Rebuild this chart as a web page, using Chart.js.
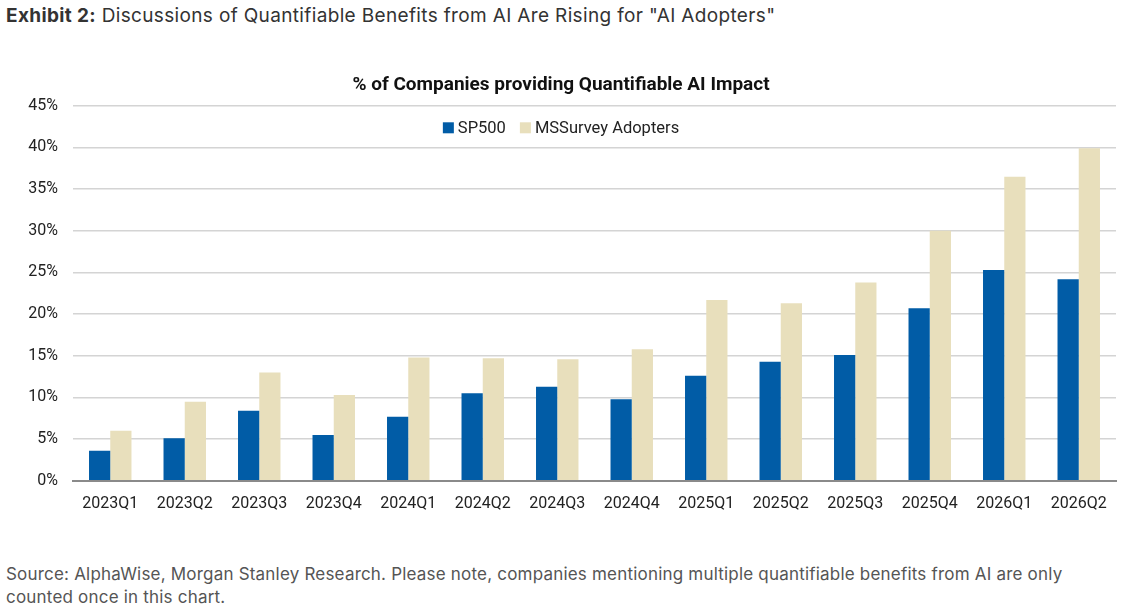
<!DOCTYPE html>
<html>
<head>
<meta charset="utf-8">
<script src="https://cdn.jsdelivr.net/npm/chart.js@4"></script>
<style>
  body { margin: 0; background: #fff; width: 1122px; height: 614px; overflow: hidden; font-family: Inter, 'Noto Sans', sans-serif; }
  #header { position: absolute; left: 6px; top: 4px; font-size: 19px; letter-spacing: 0.35px; color: #333; }
  #header b { font-weight: 700; }
  #wrap { position: absolute; left: 0; top: 58px; width: 1122px; height: 470px; }
  #footer { position: absolute; left: 6px; top: 563px; font-size: 17px; letter-spacing: 0.2px; color: #555; line-height: 23px; }
</style>
</head>
<body>
<div id="header"><b>Exhibit 2:</b> Discussions of Quantifiable Benefits from AI Are Rising for "AI Adopters"</div>
<div id="wrap"><canvas id="chart"></canvas></div>
<div id="footer">Source: AlphaWise, Morgan Stanley Research. Please note, companies mentioning multiple quantifiable benefits from AI are only<br>counted once in this chart.</div>
<script>
// Kategoriler ve seriler
const quarters = ['2023Q1', '2023Q2', '2023Q3', '2023Q4', '2024Q1', '2024Q2', '2024Q3',
                  '2024Q4', '2025Q1', '2025Q2', '2025Q3', '2025Q4', '2026Q1', '2026Q2'];
const sp500 = [3.6, 5.1, 8.4, 5.5, 7.7, 10.5, 11.3, 9.8, 12.6, 14.3, 15.1, 20.7, 25.3, 24.2];
const msSurvey = [6.0, 9.5, 13.0, 10.3, 14.8, 14.7, 14.6, 15.8, 21.7, 21.3, 23.8, 30.0, 36.5, 39.9];
const seriesNames = ['SP500', 'MSSurvey Adopters'];

// Legend grafik alanının içinde, üst ortada
const inlineLegend = {
    id: 'inlineLegend',
    afterDraw(chart) {
        const { ctx, chartArea } = chart;
        const box = 11, textGap = 4, itemGap = 14;
        ctx.save();
        ctx.font = '16.5px Roboto';
        const items = chart.data.datasets.map(ds => ({
            label: ds.label,
            color: ds.backgroundColor,
            w: box + textGap + ctx.measureText(ds.label).width
        }));
        const total = items.reduce((s, i) => s + i.w, 0) + itemGap * (items.length - 1);
        let x = chart.width / 2 - total / 2;
        const y = chartArea.top + 22;
        ctx.textBaseline = 'middle';
        items.forEach(it => {
            ctx.fillStyle = it.color;
            ctx.fillRect(x, y - box / 2, box, box);
            ctx.fillStyle = '#222';
            ctx.fillText(it.label, x + box + textGap, y + 1);
            x += it.w + itemGap;
        });
        ctx.restore();
    }
};

const ctx = document.getElementById('chart').getContext('2d');

new Chart(ctx, {
    type: 'bar',
    data: {
        labels: quarters,
        datasets: [{
            label: seriesNames[0],
            data: sp500,
            backgroundColor: '#015ca6',
            borderWidth: 0
        }, {
            label: seriesNames[1],
            data: msSurvey,
            backgroundColor: '#e8dfbc',
            borderWidth: 0
        }]
    },
    plugins: [inlineLegend],
    options: {
        responsive: true,
        maintainAspectRatio: false,
        animation: false,
        layout: {
            padding: { left: 6, right: 6, top: 0, bottom: 0 }
        },
        datasets: {
            bar: {
                categoryPercentage: 0.57,
                barPercentage: 1.0
            }
        },
        plugins: {
            title: {
                display: true,
                text: '% of Companies providing Quantifiable AI Impact',
                color: '#111',
                font: { family: 'Roboto', size: 19, weight: 'bold' },
                padding: { top: 16, bottom: 9 }
            },
            legend: { display: false },
            tooltip: { enabled: false }
        },
        scales: {
            y: {
                min: 0,
                max: 45,
                afterFit: scale => { scale.width = 67; },
                ticks: {
                    stepSize: 5,
                    color: '#222',
                    padding: 15,
                    font: { family: 'Roboto', size: 16 },
                    callback: v => v + '%'
                },
                grid: { color: '#d4d4d4', lineWidth: 1.5, drawTicks: false },
                border: { display: false }
            },
            x: {
                ticks: {
                    color: '#222',
                    padding: 14,
                    maxRotation: 0,
                    font: { family: 'Roboto', size: 16 }
                },
                grid: { display: false, drawTicks: false },
                border: { color: '#8a8a8a', width: 2 }
            }
        }
    }
});
</script>
</body>
</html>
